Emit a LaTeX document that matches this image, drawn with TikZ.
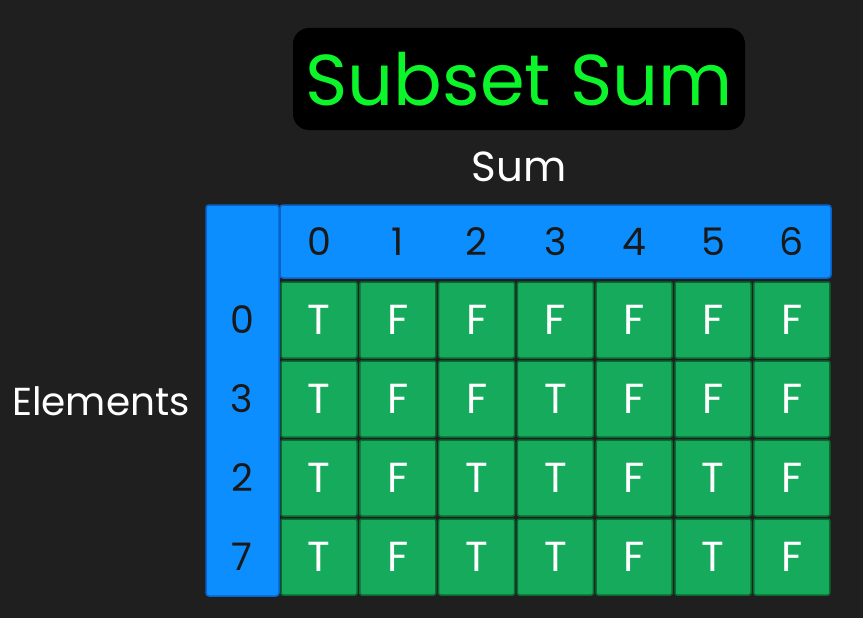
\documentclass[tikz,border=0pt]{standalone}
\usepackage{fontspec}
\setmainfont{Poppins}
\usepackage{tikz}

\definecolor{bgdark}{HTML}{1F1F1F}
\definecolor{titlegreen}{HTML}{0CF52A}
\definecolor{hdrblue}{HTML}{0D8EFF}
\definecolor{hdrline}{HTML}{0A62C8}
\definecolor{cellgreen}{HTML}{16AB5C}
\definecolor{cellline}{HTML}{0B6A30}

\tikzset{
	cell/.style={draw=cellline, line width=1.5pt, fill=cellgreen, rounded corners=2pt,
		minimum size=76pt, inner sep=0pt, text=white, font=\fontsize{42}{42}\selectfont},
	hdr/.style={draw=hdrline, line width=1.5pt, fill=hdrblue, rounded corners=3pt},
	idx/.style={text=black!90, font=\fontsize{38}{38}\selectfont}
}

\begin{document}
\begin{tikzpicture}[x=1pt, y=-1pt]
		\useasboundingbox (0,0) rectangle (863,618);
		\fill[bgdark] (0,0) rectangle (863,618);
		\node[fill=black, rounded corners=16pt, minimum width=452pt, minimum height=102pt, text=titlegreen,
			font=\fontsize{72}{72}\selectfont] (title) at (519,79) {Subset Sum};
		\node[text=white, font=\fontsize{42}{42}\selectfont] (sumlabel) at (519,167) {Sum};
		\node[text=white, font=\fontsize{39}{39}\selectfont, anchor=east, inner sep=0pt] (elemlabel) at (190,401) {Elements};
		\draw[hdr] (206,205) rectangle (279,596);
		\draw[hdr] (280,205) rectangle (831,278);
		\foreach \s in {0,...,6}
			\node[idx] (sum\s) at (319+78.8*\s,242) {\s};
		\foreach \e [count=\r from 0] in {0,3,2,7}
			\node[idx] (elem\r) at (242,320+79*\r) {\e};
		\foreach \vals [count=\r from 0] in {{T,F,F,F,F,F,F},{T,F,F,T,F,F,F},{T,F,T,T,F,T,F},{T,F,T,T,F,T,F}}
			\foreach \v [count=\c from 0] in \vals
				\node[cell] (cell-\r-\c) at (319+78.8*\c,320+79*\r) {\v};
\end{tikzpicture}
\end{document}
